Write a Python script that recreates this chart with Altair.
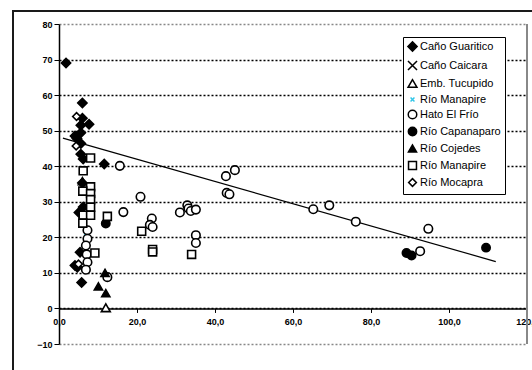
import altair as alt
import pandas as pd

# Series definitions (legend order = drawing order)
series_keys = ["s0", "s1", "s2", "s3", "s4", "s5", "s6", "s7", "s8"]
series_labels = ["Caño Guaritico", "Caño Caicara", "Emb. Tucupido", "Río Manapire",
                 "Hato El Frío", "Río Capanaparo", "Río Cojedes", "Río Manapire",
                 "Río Mocapra"]

X_PATH = "M-1,-1L1,1M-1,1L1,-1"
SMALL_X_PATH = "M-0.45,-0.45L0.45,0.45M-0.45,0.45L0.45,-0.45"
series_shapes = ["diamond", X_PATH, "triangle-up", SMALL_X_PATH, "circle", "circle",
                 "triangle-up", "square", "diamond"]
series_fills = ["black", "transparent", "white", "transparent", "white", "black",
                "black", "white", "white"]
series_strokes = ["black", "black", "black", "#33c6e8", "black", "black",
                  "black", "black", "black"]
series_sizes = [85, 60, 80, 80, 95, 95, 80, 85, 80]

# Points per series
guaritico_x = [1.8, 6.0, 6.0, 7.7, 5.6, 5.6, 4.1, 4.6, 5.6, 5.6, 6.2, 11.6, 6.0, 5.1, 6.2, 5.4, 4.1, 4.7, 5.8]
guaritico_y = [69.0, 57.8, 53.5, 51.8, 51.5, 49.4, 48.5, 47.8, 46.4, 43.4, 42.0, 40.6, 35.3, 27.0, 28.5, 15.8, 12.1, 11.6, 7.3]

caicara_x = []
caicara_y = []

tucupido_x = [12.0]
tucupido_y = [0.2]

manapire_x_x = [43.0, 7.0]
manapire_x_y = [37.0, 20.5]

frio_x = [15.6, 42.8, 45.1, 43.0, 43.7, 20.9, 16.5, 23.8, 23.3, 24.0, 31.0, 32.9, 33.2,
          33.8, 35.1, 35.1, 35.1, 65.2, 69.3, 76.1, 94.7, 92.6, 7.3, 7.3, 6.9, 7.1,
          7.3, 6.9, 12.4]
frio_y = [40.1, 37.2, 38.9, 32.5, 32.1, 31.4, 27.1, 25.3, 23.5, 22.9, 27.0, 29.0, 28.1,
          27.4, 27.8, 20.6, 18.4, 27.9, 29.0, 24.4, 22.4, 16.1, 22.0, 19.6, 17.7, 15.2,
          13.0, 10.9, 8.8]

capanaparo_x = [12.0, 89.1, 90.4, 109.5]
capanaparo_y = [23.9, 15.6, 14.9, 17.1]

cojedes_x = [6.0, 10.1, 12.0, 11.8]
cojedes_y = [35.8, 6.2, 4.3, 10.0]

manapire_sq_x = [8.1, 6.2, 8.1, 6.1, 8.1, 8.1, 8.1, 6.2, 8.1, 6.1, 12.4, 9.2, 21.2, 24.0, 24.0, 34.0]
manapire_sq_y = [42.3, 38.7, 34.2, 33.0, 32.3, 30.6, 28.5, 26.2, 26.2, 24.0, 25.9, 15.6, 21.7, 16.6, 15.9, 15.2]

mocapra_x = [4.5, 4.4, 5.0]
mocapra_y = [54.0, 45.7, 12.5]

# Linear trend line: y = intercept + slope * x
trend_intercept = 48.2
trend_slope = -0.3126
trend_x = [1.0, 112.0]

x_ticks = [0, 20, 40, 60, 80, 100, 120]
y_ticks = [-10, 0, 10, 20, 30, 40, 50, 60, 70, 80]

all_series = [
    (guaritico_x, guaritico_y), (caicara_x, caicara_y), (tucupido_x, tucupido_y),
    (manapire_x_x, manapire_x_y), (frio_x, frio_y), (capanaparo_x, capanaparo_y),
    (cojedes_x, cojedes_y), (manapire_sq_x, manapire_sq_y), (mocapra_x, mocapra_y),
]
rows = []
for key, (xs, ys) in zip(series_keys, all_series):
    for xv, yv in zip(xs, ys):
        rows.append({"serie": key, "x": xv, "y": yv})
points_df = pd.DataFrame(rows)
trend_df = pd.DataFrame({"x": trend_x})
frame_df = pd.DataFrame({"k": [0]})

W, H = 468, 320
FONT = "Liberation Sans"

x_scale = alt.Scale(domain=[0, 120], nice=False)
y_scale = alt.Scale(domain=[-10, 80], nice=False)

label_js = "[" + ",".join("'" + s + "'" for s in series_labels) + "]"
key_js = "[" + ",".join("'" + s + "'" for s in series_keys) + "]"
legend = alt.Legend(
    title=None, orient="none", legendX=344, legendY=13,
    labelExpr=f"{label_js}[indexof({key_js}, datum.value)]",
    labelFont=FONT, labelFontSize=11, labelColor="black",
    strokeColor="black", fillColor="white", padding=4,
    rowPadding=2, labelOffset=2, symbolStrokeWidth=1.5,
)

x_axis = alt.Axis(
    values=x_ticks, offset=-(H * 10 / 90), grid=False,
    labelExpr="replace(format(datum.value, '.1f'), '.', ',')",
    labelFont=FONT, labelFontSize=9, labelFontWeight="bold", labelColor="black",
    labelPadding=5, tickSize=4, tickColor="black", domainColor="black",
    domainWidth=1.5, title=None, labelOverlap=False, labelFlush=False,
)
y_axis = alt.Axis(
    values=y_ticks, format="d", grid=True, tickCount=10,
    gridColor={"condition": {"test": "datum.value == 80 || datum.value == -10", "value": "#888888"}, "value": "black"},
    gridWidth={"condition": {"test": "datum.value == 80 || datum.value == -10", "value": 1.5}, "value": 1.3},
    gridDash=[2, 2],
    labelFont=FONT, labelFontSize=9, labelFontWeight="bold", labelColor="black",
    labelPadding=2, tickSize=5, tickColor="black", domainColor="black",
    domainWidth=1.5, title=None, labelOverlap=False, labelFlush=False,
)

trend = alt.Chart(trend_df).transform_calculate(
    y=f"{trend_intercept} + ({trend_slope}) * datum.x"
).mark_line(color="black", strokeWidth=1.2).encode(
    x=alt.X("x:Q", scale=x_scale, axis=x_axis),
    y=alt.Y("y:Q", scale=y_scale, axis=y_axis),
)

points = alt.Chart(points_df).mark_point(filled=True, strokeWidth=1.6, opacity=1).encode(
    x=alt.X("x:Q", scale=x_scale, axis=x_axis),
    y=alt.Y("y:Q", scale=y_scale, axis=y_axis),
    shape=alt.Shape("serie:N", scale=alt.Scale(domain=series_keys, range=series_shapes), legend=legend),
    fill=alt.Fill("serie:N", scale=alt.Scale(domain=series_keys, range=series_fills), legend=legend),
    stroke=alt.Stroke("serie:N", scale=alt.Scale(domain=series_keys, range=series_strokes), legend=legend),
    size=alt.Size("serie:N", scale=alt.Scale(domain=series_keys, range=series_sizes), legend=legend),
)

# Plot-area right edge
right_edge = alt.Chart(frame_df).mark_rule(color="#888888", strokeWidth=2).encode(
    x=alt.value(W), x2=alt.value(W), y=alt.value(0), y2=alt.value(H)
)
# Outer chart frame: left and top sides
frame_left = alt.Chart(frame_df).mark_rule(color="#1a1a1a", strokeWidth=2).encode(
    x=alt.value(-46), x2=alt.value(-46), y=alt.value(-14), y2=alt.value(H + 40)
)
frame_top = alt.Chart(frame_df).mark_rule(color="#1a1a1a", strokeWidth=2).encode(
    x=alt.value(-47), x2=alt.value(W + 20), y=alt.value(-13), y2=alt.value(-13)
)

chart = alt.layer(trend, points, right_edge, frame_left, frame_top).properties(
    width=W, height=H,
    autosize=alt.AutoSizeParams(type="none"),
    padding={"left": 59, "top": 24, "right": 5, "bottom": 26},
    background="white",
).configure_view(stroke=None)

chart.save("out.html", embed_options={"renderer": "svg", "actions": False})
